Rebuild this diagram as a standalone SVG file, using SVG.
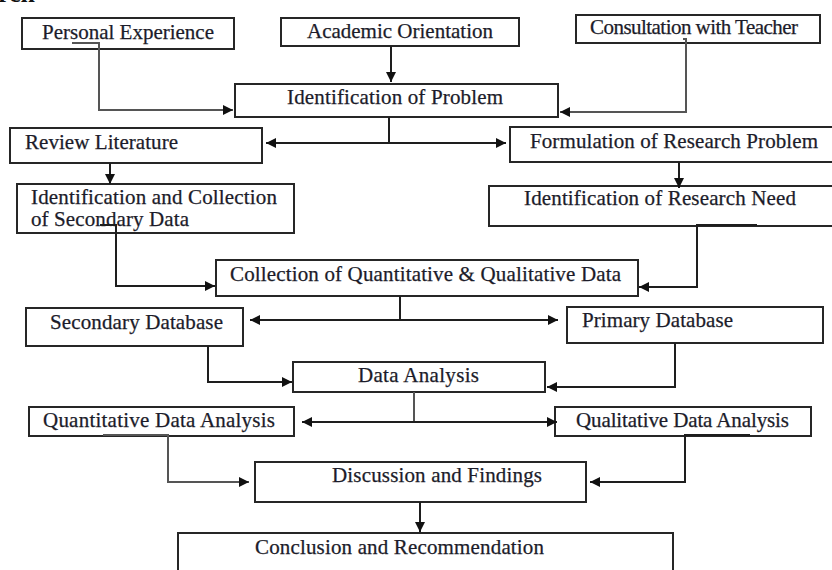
<svg xmlns="http://www.w3.org/2000/svg" width="832" height="570" viewBox="0 0 832 570">
<style>
.box{fill:#fff;stroke:#262626;stroke-width:2}
.t{font-family:"Liberation Serif","Times New Roman",serif;font-size:21px;fill:#1c1c2a;stroke:#1c1c2a;stroke-width:0.25}
.c{fill:none;stroke:#1e1e1e;stroke-width:2}
.g{stroke:#555}
</style>
<defs>
<marker id="ah" viewBox="0 0 10 10" refX="10" refY="5" markerWidth="5" markerHeight="5" orient="auto-start-reverse" markerUnits="strokeWidth">
<path d="M0,0 L10,5 L0,10 z" fill="#111"/>
</marker>
</defs>
<rect width="832" height="570" fill="#fff"/>
<text x="-2" y="2" font-family="Liberation Serif,serif" font-weight="bold" font-size="26" fill="#111">rch</text>

<g id="n-personal"><rect class="box" x="22" y="18" width="212" height="31"/><text class="t" x="42" y="39" textLength="172">Personal Experience</text></g>
<g id="n-academic"><rect class="box" x="281" y="18" width="238" height="28"/><text class="t" x="307" y="38" textLength="186">Academic Orientation</text></g>
<g id="n-consult"><rect class="box" x="576" y="15" width="244" height="28"/><text class="t" x="590" y="34" textLength="208">Consultation with Teacher</text></g>
<g id="n-idprob"><rect class="box" x="235" y="84" width="323" height="33"/><text class="t" x="287" y="104" textLength="216">Identification of Problem</text></g>
<g id="n-review"><rect class="box" x="10" y="128" width="252" height="35"/><text class="t" x="25" y="149" textLength="153">Review Literature</text></g>
<g id="n-formulation"><rect class="box" x="510" y="127" width="330" height="35"/><text class="t" x="530" y="148" textLength="288">Formulation of Research Problem</text></g>
<g id="n-secdata"><rect class="box" x="17" y="184" width="277" height="49"/><text class="t" x="31" y="204" textLength="246">Identification and Collection</text><text class="t" x="31" y="226" textLength="158">of Secondary Data</text></g>
<g id="n-need"><rect class="box" x="489" y="186" width="351" height="40"/><text class="t" x="524" y="205" textLength="272">Identification of Research Need</text></g>
<g id="n-collect"><rect class="box" x="216" y="260" width="422" height="36"/><text class="t" x="230" y="281" textLength="391">Collection of Quantitative &amp; Qualitative Data</text></g>
<g id="n-secdb"><rect class="box" x="26" y="308" width="217" height="38"/><text class="t" x="50" y="329" textLength="173">Secondary Database</text></g>
<g id="n-primdb"><rect class="box" x="567" y="307" width="256" height="36"/><text class="t" x="582" y="327" textLength="151">Primary Database</text></g>
<g id="n-analysis"><rect class="box" x="293" y="362" width="252" height="30"/><text class="t" x="358" y="382" textLength="121">Data Analysis</text></g>
<g id="n-quant"><rect class="box" x="29" y="407" width="265" height="29"/><text class="t" x="43" y="427" textLength="232">Quantitative Data Analysis</text></g>
<g id="n-qual"><rect class="box" x="555" y="407" width="256" height="29"/><text class="t" x="576" y="427" textLength="213">Qualitative Data Analysis</text></g>
<g id="n-discuss"><rect class="box" x="255" y="462" width="331" height="40"/><text class="t" x="332" y="482" textLength="210">Discussion and Findings</text></g>
<g id="n-conclusion"><rect class="box" x="178" y="533" width="495" height="50"/><text class="t" x="255" y="554" textLength="289">Conclusion and Recommendation</text></g>

<g id="connectors">
<path class="c g" d="M72,43 H99 V110 H233" marker-end="url(#ah)"/>
<path class="c" d="M391,46 V82" marker-end="url(#ah)"/>
<path class="c g" d="M683,39 H686 V112 H560" marker-end="url(#ah)"/>
<path class="c" d="M389,117 V143"/>
<path class="c" d="M266,143 H506" marker-start="url(#ah)" marker-end="url(#ah)"/>
<path class="c" d="M110,163 V184" marker-end="url(#ah)"/>
<path class="c" d="M679,162 V188" marker-end="url(#ah)"/>
<path class="c" d="M100,225 H116 V286 H215" marker-end="url(#ah)"/>
<path class="c" d="M757,225 H697 V287 H639" marker-end="url(#ah)"/>
<path class="c" d="M400,296 V320"/>
<path class="c" d="M250,320 H558" marker-start="url(#ah)" marker-end="url(#ah)"/>
<path class="c" d="M208,346 V382 H292" marker-end="url(#ah)"/>
<path class="c" d="M675,343 V387 H547" marker-end="url(#ah)"/>
<path class="c g" d="M414,392 V422"/>
<path class="c" d="M302,422 H557" marker-start="url(#ah)" marker-end="url(#ah)"/>
<path class="c g" d="M103,435 H168 V482 H249" marker-end="url(#ah)"/>
<path class="c" d="M750,435 H685 V482 H590" marker-end="url(#ah)"/>
<path class="c" d="M420,502 V532" marker-end="url(#ah)"/>
</g>
</svg>
